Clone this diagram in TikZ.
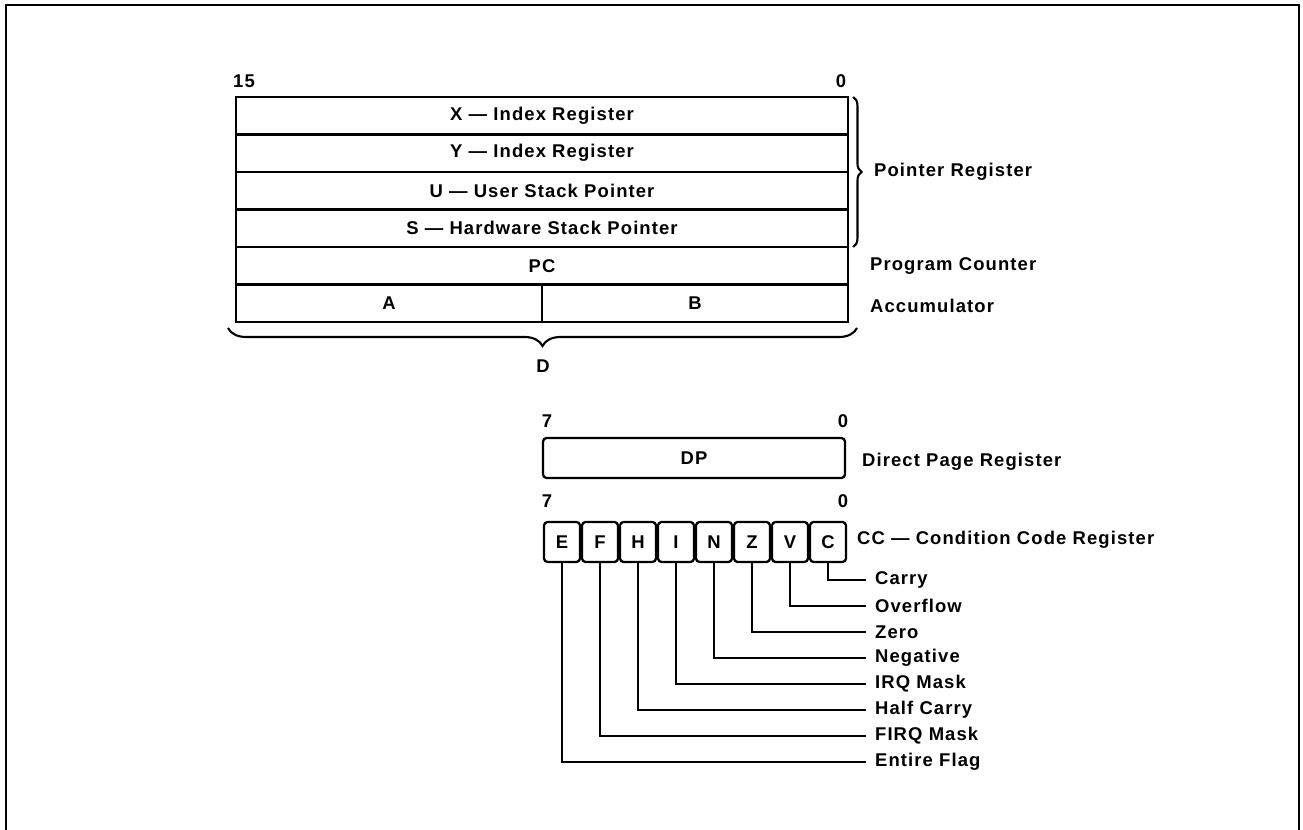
\documentclass[tikz,border=0pt]{standalone}
\usepackage{fontspec}
\setmainfont{Liberation Sans}[LetterSpace=6]
\usepackage{tikz}
\usetikzlibrary{positioning, decorations.pathreplacing}
\newcommand{\regfont}{\fontsize{10.5pt}{12pt}\selectfont\bfseries}

\begin{document}
\begin{tikzpicture}[x=0.02cm, y=-0.02cm,
        reg/.style={rectangle, draw, line width=1.3pt, outer sep=0pt, inner sep=0pt, minimum width=12.24cm, minimum height=0.75cm, font=\regfont},
        half/.style={reg, minimum width=6.12cm},
        dpbox/.style={reg, minimum width=6.04cm, minimum height=0.8cm, rounded corners=2pt},
        flag/.style={reg, minimum width=0.72cm, minimum height=0.8cm, rounded corners=2pt},
        lbl/.style={anchor=west, inner sep=5pt, font=\regfont},
        bit/.style={inner sep=0pt, font=\regfont},
        wire/.style={line width=1.3pt},
        brace/.style={decorate, line width=1.2pt}
    ]
        \useasboundingbox (0,0) rectangle (1303,830);
        \draw[line width=1.4pt] (6,830) -- (6,5) -- (1299,5) -- (1299,830);

        % 16-bit registers
        \node[reg] (xreg) at (542,115.75) {X — Index Register};
        \node[reg, below=0pt of xreg] (yreg) {Y — Index Register};
        \node[reg, below=0pt of yreg] (ureg) {U — User Stack Pointer};
        \node[reg, below=0pt of ureg] (sreg) {S — Hardware Stack Pointer};
        \node[reg, below=0pt of sreg] (pc) {PC};
        \node[half, anchor=north west] (acca) at (pc.south west) {A};
        \node[half, anchor=north east] (accb) at (pc.south east) {B};
        \node[bit] (hi16) at (244,81) {15};
        \node[bit] (lo16) at (841,81) {0};

        \draw[brace, decoration={brace, amplitude=0.17cm}] ([xshift=3pt]xreg.north east) -- ([xshift=3pt]sreg.south east);
        \node[lbl] (ptr) at (865,172) {Pointer Register};
        \node[lbl] (pclbl) at (861,266) {Program Counter};
        \node[lbl] (acclbl) at (861,306) {Accumulator};
        \draw[brace, decoration={brace, amplitude=0.36cm}] (857,328) -- (228,328);
        \node[bit] (dreg) at (543,366) {D};

        % 8-bit registers
        \node[dpbox] (dp) at (694,458) {DP};
        \node[bit] (hidp) at (547,421) {7};
        \node[bit] (lodp) at (843,421) {0};
        \node[lbl] (dplbl) at (853,462) {Direct Page Register};

        \node[bit] (hicc) at (547,501) {7};
        \node[bit] (locc) at (843,501) {0};
        \node[lbl] (cclbl) at (848,540) {CC — Condition Code Register};

        % condition code flags
        \foreach \f/\t [count=\i from 0] in {E/Entire Flag, F/FIRQ Mask, H/Half Carry, I/IRQ Mask, N/Negative, Z/Zero, V/Overflow, C/Carry} {
            \node[flag] (flag\f) at (562+38*\i,542) {\f};
            \node[lbl] (name\f) at (866,762-26*\i) {\t};
            \draw[wire] (flag\f.south) |- (name\f.west);
        }

    \end{tikzpicture}
\end{document}
